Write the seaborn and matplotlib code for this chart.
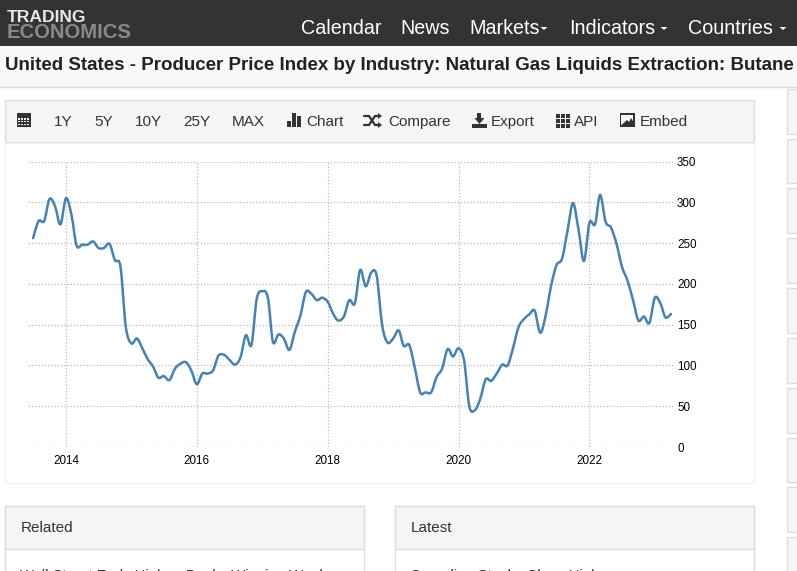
import pandas as pd
import matplotlib
matplotlib.use("Agg")
import matplotlib.pyplot as plt
from matplotlib.patches import Rectangle, PathPatch
from matplotlib.path import Path
import seaborn as sns

# ---------------- Data ----------------

# monthly index values, first month is July 2013
start_month = "2013-07-01"
ppi_values = [
    256, 277, 277, 304, 295, 273,
    305, 284, 247, 248, 248, 252, 244, 244, 249, 229, 221, 147,
    127, 133, 122, 108, 99, 85, 87, 82, 96, 102, 104, 94,
    77, 90, 90, 94, 112, 113, 107, 101, 110, 137, 125, 182,
    191, 183, 129, 138, 133, 119, 141, 161, 190, 188, 180, 183,
    178, 163, 155, 160, 180, 176, 217, 197, 214, 210, 149, 128,
    133, 143, 124, 125, 98, 67, 67, 67, 86, 96, 120, 111,
    121, 106, 50, 45, 59, 83, 81, 90, 101, 100, 122, 147,
    157, 163, 167, 140, 161, 198, 223, 231, 266, 299, 266, 228,
    275, 273, 309, 276, 269, 249, 221, 204, 180, 155, 160, 152,
    183, 176, 159, 163,
]
y_ticks = [0, 50, 100, 150, 200, 250, 300, 350]
x_years = [2014, 2016, 2018, 2020, 2022]

nav_items = ["Calendar", "News", "Markets", "Indicators", "Countries"]
nav_x = [301, 400, 469, 569, 688]
caret_x = [544, 664, 783]
toolbar_items = ["1Y", "5Y", "10Y", "25Y", "MAX", "Chart", "Compare", "Export", "API", "Embed"]
toolbar_x = [54, 94, 135, 183, 232, 306, 388, 491, 574, 640]
title = "United States - Producer Price Index by Industry: Natural Gas Liquids Extraction: Butane"

df = pd.DataFrame({
    "date": pd.date_range(start_month, periods=len(ppi_values), freq="MS"),
    "value": ppi_values,
})

# ---------------- Figure ----------------

W, H = 797, 571
ICON = "#333333"
sns.set_theme(style="white")
plt.rcParams["font.family"] = ["Liberation Sans", "DejaVu Sans"]

fig = plt.figure(figsize=(W / 100, H / 100), dpi=100, facecolor="white")

# page furniture is drawn in pixel coordinates
page = fig.add_axes([0, 0, 1, 1])
page.set_xlim(0, W)
page.set_ylim(H, 0)
page.axis("off")


def box(x, y, w, h, fc="white", ec="none", lw=1):
    page.add_patch(Rectangle((x, y), w, h, facecolor=fc, edgecolor=ec, linewidth=lw))


def label(x, y, s, size=11.0, color="#333333", **kw):
    page.text(x, y, s, fontsize=size, color=color, va="center", **kw)


# header
box(0, 0, W, 46, fc="#333333")
box(0, 46, W, 41, fc="#f8f8f8")
page.plot([0, W], [86.5, 86.5], color="#d8d8d8", lw=1)
label(7, 17.5, "TRADING", size=12.6, color="#e8e8e8", fontweight="bold")
label(7, 33, "ECONOMICS", size=14.6, color="#8a8a8a", fontweight="bold")
for x, s in zip(nav_x, nav_items):
    label(x, 28.5, s, size=14.2, color="white")
for x in caret_x:
    page.fill([x - 3.5, x + 3.5, x], [27, 27, 30], color="white", lw=0)
label(5, 65, title, size=13.52, color="#222222", fontweight="bold")

# toolbar and chart panel
box(5.5, 99.5, 749, 42, fc="#f5f5f5", ec="#dddddd")
box(5.5, 142.5, 749, 340, fc="white", ec="#f2f2f2")
for x, s in zip(toolbar_x, toolbar_items):
    label(x, 122, s)

# calendar icon
box(17, 113, 14, 14, fc=ICON)
for i in range(4):
    for j in range(3):
        box(18.5 + i * 2.9, 118 + j * 2.9, 1.6, 1.6, fc="#f5f5f5")
# bars icon
box(287, 121, 4, 6, fc=ICON)
box(292, 113, 4, 14, fc=ICON)
box(297, 116, 4, 11, fc=ICON)
# shuffle icon
page.plot([364, 369, 375, 380], [116, 116, 125, 125], color=ICON, lw=1.6)
page.plot([364, 369, 375, 380], [125, 125, 116, 116], color=ICON, lw=1.6)
page.fill([378, 382, 378], [113, 116, 119], color=ICON, lw=0)
page.fill([378, 382, 378], [122, 125, 128], color=ICON, lw=0)
# export icon
box(477.5, 113, 4, 6, fc=ICON)
page.fill([474.5, 484.5, 479.5], [118, 118, 124], color=ICON, lw=0)
box(472, 124, 15, 4, fc=ICON)
# api icon
for i in range(3):
    for j in range(3):
        box(556 + i * 5, 114 + j * 5, 3.8, 3.8, fc=ICON)
# embed icon
box(620, 113, 15, 14, fc=ICON)
box(621.5, 115, 12, 10, fc="#f5f5f5")
page.fill([621.5, 627, 629, 631, 633.5, 633.5, 621.5], [125, 120, 122, 118, 122, 125, 125], color=ICON, lw=0)

# side boxes
for y, h in [(88, 45), (138, 44), (187, 45), (237, 45), (287, 45), (337, 45), (387, 45), (437, 44), (486, 45), (536, 45)]:
    box(787.5, y + 0.5, 20, h, fc="#f5f5f5", ec="#dddddd")

# bottom panels
for x, s, first in [(5.5, "Related", "Wall Street Ends Higher, Banks Winning Week"),
                    (395.5, "Latest", "Canadian Stocks Close Higher")]:
    box(x, 505.5, 359, 80, fc="white", ec="#dddddd")
    box(x, 505.5, 359, 43, fc="#f5f5f5", ec="#dddddd")
    label(x + 15, 528, s)
    label(x + 15, 576, first, size=10.7)

# ---------------- Chart ----------------

day_per_px = (pd.Timestamp("2022-01-01") - pd.Timestamp("2014-01-01")).days / (589.5 - 66)
left_px, right_px = 28, 675
ax = fig.add_axes([left_px / W, (H - 447) / H, (right_px - left_px) / W, (447 - 161.5) / H])
ax.patch.set_alpha(0)
ax.set_xlim(pd.Timestamp("2014-01-01") - pd.Timedelta(days=(66 - left_px) * day_per_px),
            pd.Timestamp("2014-01-01") + pd.Timedelta(days=(right_px - 66) * day_per_px))
ax.set_ylim(0, 350)

sns.lineplot(data=df, x="date", y="value", ax=ax, color="#4682b4", linewidth=1.8, zorder=3)

# the site draws a spline: same monthly points, bezier joins instead of straight ones
line = ax.lines[0]
xs, ys = line.get_xydata().T
verts = [(xs[0], ys[0])]
codes = [Path.MOVETO]
for i in range(len(xs) - 1):
    x0, y0 = (xs[i - 1], ys[i - 1]) if i > 0 else (xs[i], ys[i])
    x3, y3 = (xs[i + 2], ys[i + 2]) if i + 2 < len(xs) else (xs[i + 1], ys[i + 1])
    verts += [(xs[i] + (xs[i + 1] - x0) / 6, ys[i] + (ys[i + 1] - y0) / 6),
              (xs[i + 1] - (x3 - xs[i]) / 6, ys[i + 1] - (y3 - ys[i]) / 6),
              (xs[i + 1], ys[i + 1])]
    codes += [Path.CURVE4] * 3
ax.add_patch(PathPatch(Path(verts, codes), facecolor="none", edgecolor="#4682b4",
                       linewidth=1.8, zorder=3, capstyle="round", joinstyle="round"))
line.set_visible(False)

ax.set_xlabel("")
ax.set_ylabel("")
ax.set_xticks([pd.Timestamp(f"{y}-01-01") for y in x_years])
ax.set_xticklabels([str(y) for y in x_years])
ax.set_yticks(y_ticks)
ax.yaxis.tick_right()
ax.tick_params(axis="both", length=0, labelsize=8.4, labelcolor="black")
ax.tick_params(axis="x", pad=6)
ax.tick_params(axis="y", pad=1.5)
ax.grid(True, color="#bbbbbb", linestyle=(0, (1, 1.6)), linewidth=0.9)
sns.despine(ax=ax, left=True, right=True, top=True, bottom=True)

fig.savefig("out.png", dpi=100)
